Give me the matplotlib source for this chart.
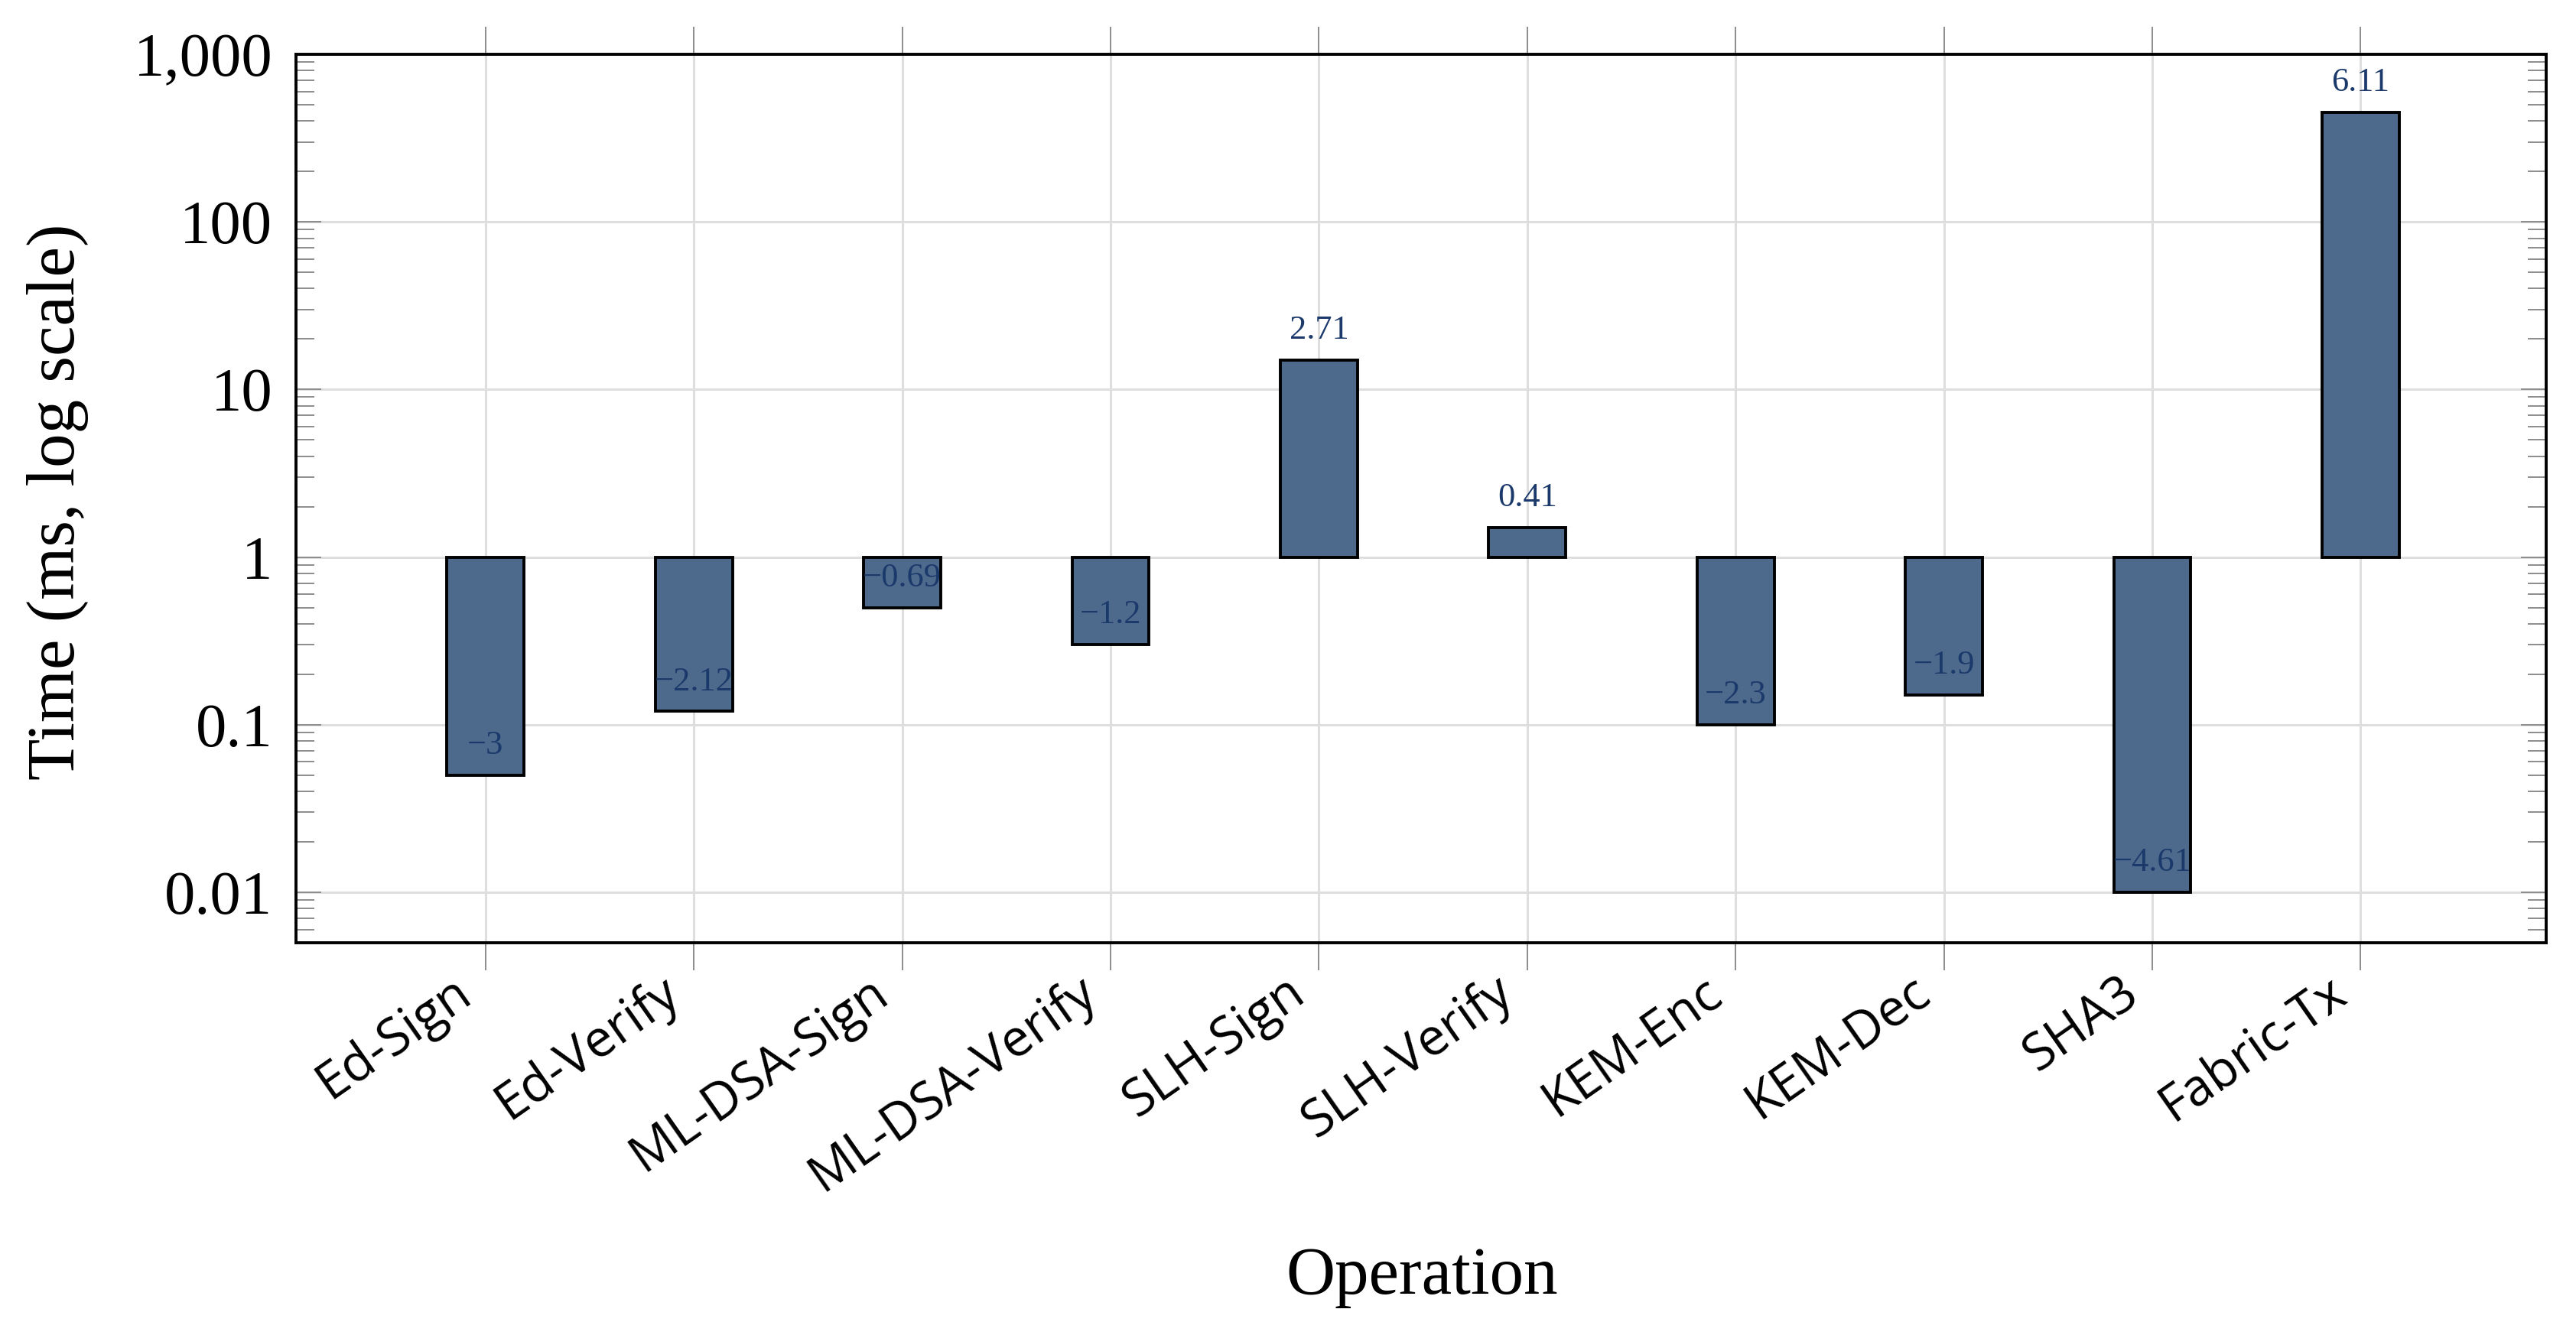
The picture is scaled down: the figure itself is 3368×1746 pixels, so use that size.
import numpy as np
import matplotlib
matplotlib.use("Agg")
import matplotlib.pyplot as plt
from matplotlib.ticker import LogLocator, FixedLocator, FuncFormatter, NullFormatter
from matplotlib.transforms import ScaledTranslation

# -----------------------------
# Data (ms)
# -----------------------------
operations = ["Ed-Sign", "Ed-Verify", "ML-DSA-Sign", "ML-DSA-Verify", "SLH-Sign",
              "SLH-Verify", "KEM-Enc", "KEM-Dec", "SHA3", "Fabric-Tx"]
times_ms = [0.05, 0.12, 0.5, 0.3, 15, 1.5, 0.1, 0.15, 0.01, 450]

# -----------------------------
# Style
# -----------------------------
bar_color = "#4d6a8c"
label_color = "#1b3a6b"
grid_color = "#dedede"
tick_color = "#8c8c8c"
serif = "Liberation Serif"
sans = "Open Sans"

fig = plt.figure(figsize=(16.84, 8.73), dpi=200)
ax = fig.add_axes([0.1149, 0.2938, 0.8735, 0.6655])

x = np.arange(len(operations))
vals = np.array(times_ms, dtype=float)

ax.set_yscale("log")
ax.bar(x, vals - 1, bottom=1, width=0.37, color=bar_color,
       edgecolor="black", linewidth=1.4, zorder=3)

# value labels (natural log of the time)
for xi, v in zip(x, vals):
    txt = f"{np.log(v):.2f}".rstrip("0").rstrip(".").replace("-", "\u2212")
    ax.annotate(txt, (xi, v), xytext=(0, 10), textcoords="offset points",
                ha="center", va="baseline", fontsize=16,
                color=label_color, family=serif, zorder=4)

ax.set_xlim(-0.91, 9.89)
ax.set_ylim(0.005, 1000)

# x axis
ax.xaxis.set_major_locator(FixedLocator(x))
ax.set_xticklabels(operations, rotation=35, ha="right", va="baseline",
                   rotation_mode="anchor", fontsize=24, family=sans)
ax.tick_params(axis="x", which="both", top=True, bottom=True, direction="out",
               length=13, width=0.7, color=tick_color, pad=13.3)
shift = ScaledTranslation(-0.075, 0.0, fig.dpi_scale_trans)
for lbl in ax.get_xticklabels():
    lbl.set_transform(lbl.get_transform() + shift)

# y axis
ax.yaxis.set_major_locator(LogLocator(base=10, numticks=20))
ax.yaxis.set_minor_locator(LogLocator(base=10, subs=np.arange(2, 10), numticks=20))
ax.yaxis.set_major_formatter(FuncFormatter(lambda v, p: f"{v:,.2f}".rstrip("0").rstrip(".")))
ax.yaxis.set_minor_formatter(NullFormatter())
ax.tick_params(axis="y", which="major", left=True, right=True, direction="in",
               length=12, width=0.7, color=tick_color, pad=11)
ax.tick_params(axis="y", which="minor", left=True, right=True, direction="in",
               length=8.5, width=0.7, color=tick_color)
for lbl in ax.get_yticklabels():
    lbl.set_family(serif)
    lbl.set_fontsize(29)

ax.grid(True, which="major", axis="both", color=grid_color, linewidth=1.1)
ax.set_axisbelow(True)

for s in ax.spines.values():
    s.set_linewidth(1.4)
    s.set_color("black")
    s.set_zorder(5)

fig.text(0.0225, 0.624, "Time (ms, log scale)", rotation=90, ha="center",
         va="center", fontsize=32, family=serif)
fig.text(0.552, 0.043, "Operation", ha="center", va="center",
         fontsize=32, family=serif)

fig.savefig("out.png", dpi=200)
